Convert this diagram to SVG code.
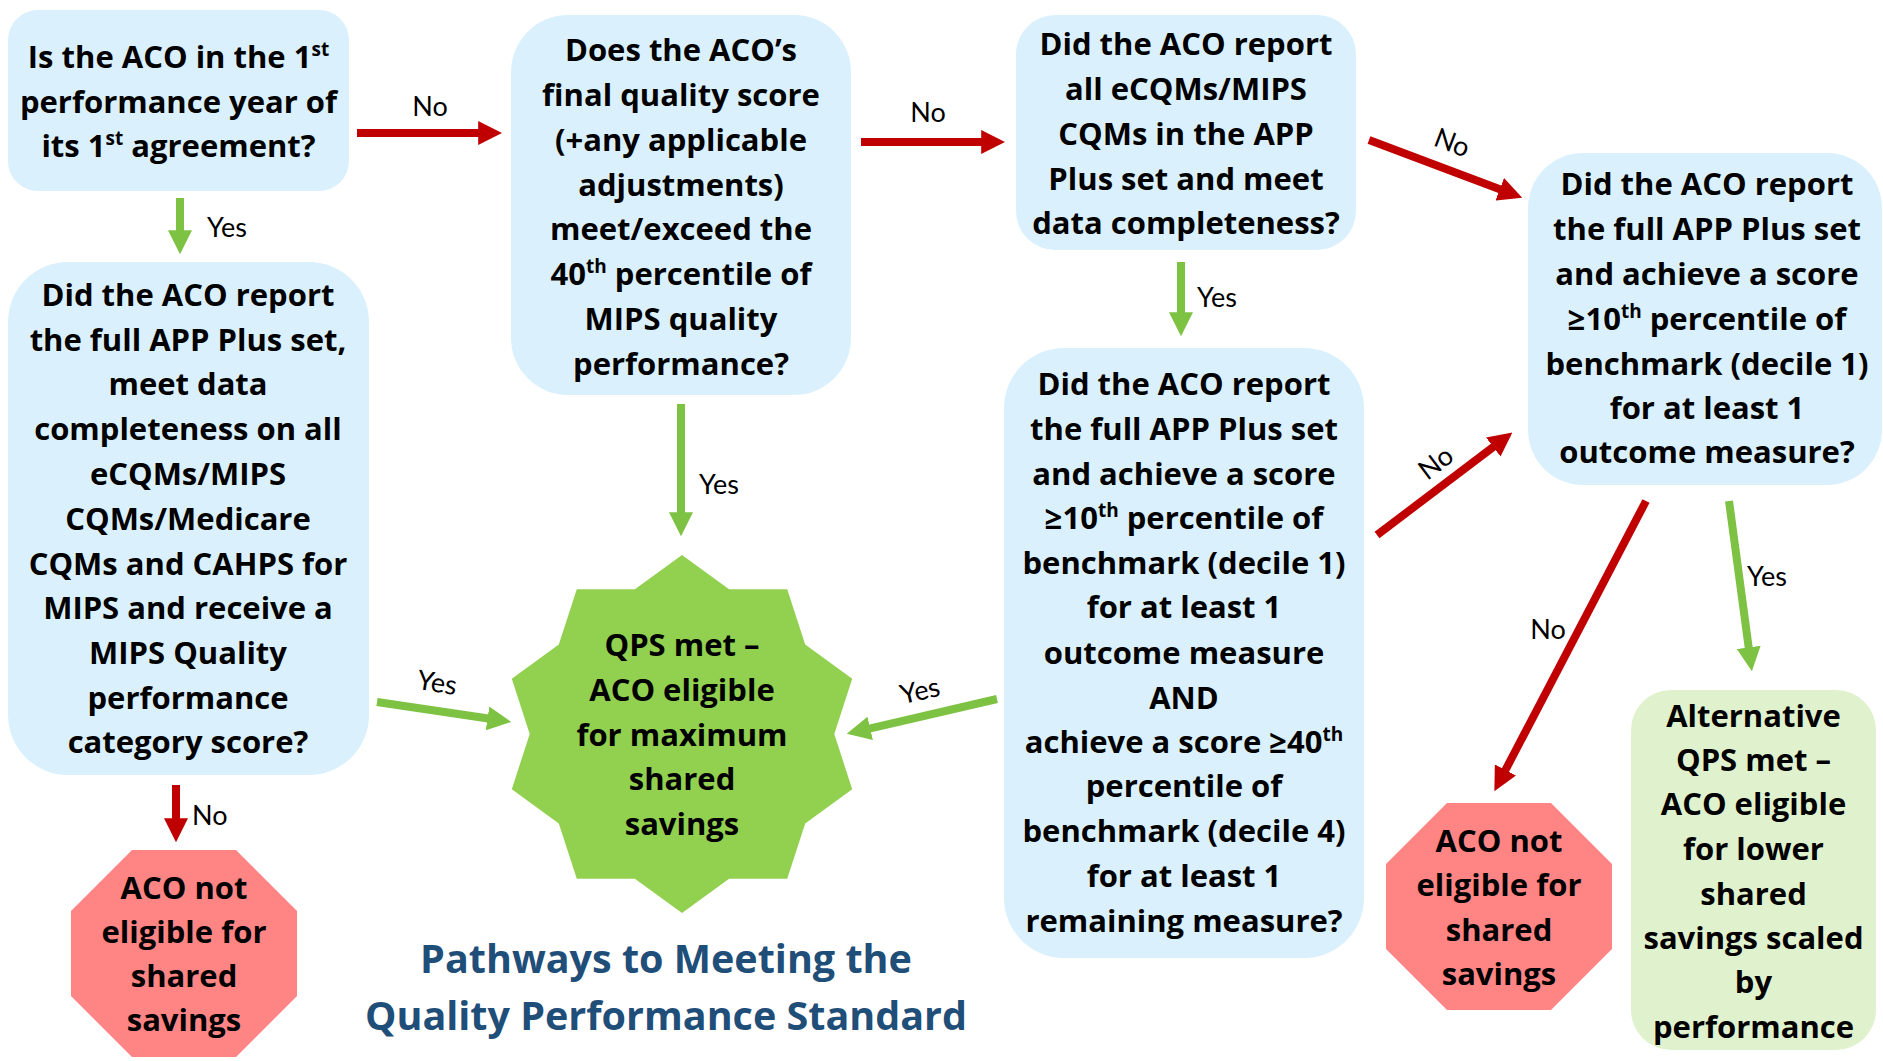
<svg xmlns="http://www.w3.org/2000/svg" width="1883" height="1061" viewBox="0 0 1883 1061">
  <style>
    .q { fill: #DAF1FD; }
    .stop { fill: #FF8585; }
    .alt { fill: #E0F2CD; }
    .star { fill: #92D050; }
    .nt { font-family: "Open Sans", "Liberation Sans", sans-serif; font-weight: 700; font-size: 31px; text-anchor: middle; fill: #000; }
    .sup { font-size: 19px; }
    .lb { font-family: Lato, "Liberation Sans", sans-serif; font-weight: 400; font-size: 27px; fill: #000; }
    .title { font-family: "Open Sans", "Liberation Sans", sans-serif; font-weight: 700; font-size: 39.5px; text-anchor: middle; fill: #1F4E79; }
    .no { stroke: #C00000; stroke-width: 8; fill: none; marker-end: url(#headRed); }
    .yes { stroke: #7DC242; stroke-width: 8; fill: none; marker-end: url(#headGreen); }
  </style>
  <defs>
    <marker id="headRed" viewBox="0 0 3 3" refX="0.1" refY="1.5" markerWidth="3" markerHeight="3" orient="auto" markerUnits="strokeWidth">
      <path d="M0,0 L3,1.5 L0,3 Z" fill="#C00000"/>
    </marker>
    <marker id="headGreen" viewBox="0 0 3 3" refX="0.1" refY="1.5" markerWidth="3" markerHeight="3" orient="auto" markerUnits="strokeWidth">
      <path d="M0,0 L3,1.5 L0,3 Z" fill="#7DC242"/>
    </marker>
  </defs>

  <rect width="1883" height="1061" fill="#FFFFFF"/>

  <!-- connectors -->
  <g id="connectors">
    <line class="no" x1="357" y1="133" x2="479" y2="133"/>
    <line class="yes" x1="180" y1="198" x2="180" y2="231"/>
    <line class="no" x1="861" y1="142" x2="982" y2="142"/>
    <line class="yes" x1="681" y1="404" x2="681" y2="513"/>
    <line class="yes" x1="1181" y1="262" x2="1181" y2="313"/>
    <line class="no" x1="1369" y1="140" x2="1500.5" y2="189.5"/>
    <line class="no" x1="1377" y1="535" x2="1493.9" y2="446.5"/>
    <line class="no" x1="1646" y1="501" x2="1505.1" y2="770.7"/>
    <line class="yes" x1="1729" y1="501" x2="1748.8" y2="648.2"/>
    <line class="yes" x1="377" y1="702" x2="488.3" y2="718.5"/>
    <line class="yes" x1="997" y1="699" x2="869.4" y2="728.6"/>
    <line class="no" x1="176" y1="785" x2="176" y2="819"/>

    <text class="lb" x="430" y="116" text-anchor="middle">No</text>
    <text class="lb" x="207" y="237">Yes</text>
    <text class="lb" x="928" y="122" text-anchor="middle">No</text>
    <text class="lb" x="699" y="494">Yes</text>
    <text class="lb" x="1197" y="307">Yes</text>
    <text class="lb" x="1452" y="152" text-anchor="middle" transform="rotate(21 1452 143)">No</text>
    <text class="lb" x="1436" y="472" text-anchor="middle" transform="rotate(-37 1436 463)">No</text>
    <text class="lb" x="1548" y="639" text-anchor="middle">No</text>
    <text class="lb" x="1747" y="586">Yes</text>
    <text class="lb" x="437" y="692" text-anchor="middle" transform="rotate(9 437 683)">Yes</text>
    <text class="lb" x="920" y="700" text-anchor="middle" transform="rotate(-13 920 691)">Yes</text>
    <text class="lb" x="192" y="825">No</text>
  </g>

  <!-- first agreement year question -->
  <g id="q-first-year">
    <rect class="q" x="8" y="10" width="341" height="181" rx="30"/>
    <text class="nt" x="178.5" y="68">Is the ACO in the 1<tspan class="sup" dy="-12">st</tspan></text>
    <text class="nt" x="178.5" y="113">performance year of</text>
    <text class="nt" x="178.5" y="157">its 1<tspan class="sup" dy="-12">st</tspan><tspan dy="12"> agreement?</tspan></text>
  </g>

  <!-- final quality score question -->
  <g id="q-final-score">
    <rect class="q" x="511" y="15" width="340" height="380" rx="57"/>
    <text class="nt" x="681" y="61">Does the ACO’s</text>
    <text class="nt" x="681" y="106">final quality score</text>
    <text class="nt" x="681" y="151">(+any applicable</text>
    <text class="nt" x="681" y="196">adjustments)</text>
    <text class="nt" x="681" y="240">meet/exceed the</text>
    <text class="nt" x="681" y="285">40<tspan class="sup" dy="-12">th</tspan><tspan dy="12"> percentile of</tspan></text>
    <text class="nt" x="681" y="330">MIPS quality</text>
    <text class="nt" x="681" y="375">performance?</text>
  </g>

  <!-- all eCQMs / MIPS CQMs question -->
  <g id="q-all-ecqms">
    <rect class="q" x="1016" y="15" width="340" height="235" rx="39"/>
    <text class="nt" x="1186" y="55">Did the ACO report</text>
    <text class="nt" x="1186" y="100">all eCQMs/MIPS</text>
    <text class="nt" x="1186" y="145">CQMs in the APP</text>
    <text class="nt" x="1186" y="190">Plus set and meet</text>
    <text class="nt" x="1186" y="234">data completeness?</text>
  </g>

  <!-- outcome measure question -->
  <g id="q-outcome">
    <rect class="q" x="1528" y="153" width="354" height="332" rx="55"/>
    <text class="nt" x="1707" y="195">Did the ACO report</text>
    <text class="nt" x="1707" y="240">the full APP Plus set</text>
    <text class="nt" x="1707" y="285">and achieve a score</text>
    <text class="nt" x="1707" y="330">≥10<tspan class="sup" dy="-12">th</tspan><tspan dy="12"> percentile of</tspan></text>
    <text class="nt" x="1707" y="375">benchmark (decile 1)</text>
    <text class="nt" x="1707" y="419">for at least 1</text>
    <text class="nt" x="1707" y="463">outcome measure?</text>
  </g>

  <!-- first-year pathway question -->
  <g id="q-first-year-set">
    <rect class="q" x="8" y="262" width="361" height="513" rx="60"/>
    <text class="nt" x="188" y="306">Did the ACO report</text>
    <text class="nt" x="188" y="351">the full APP Plus set,</text>
    <text class="nt" x="188" y="395">meet data</text>
    <text class="nt" x="188" y="440">completeness on all</text>
    <text class="nt" x="188" y="485">eCQMs/MIPS</text>
    <text class="nt" x="188" y="530">CQMs/Medicare</text>
    <text class="nt" x="188" y="575">CQMs and CAHPS for</text>
    <text class="nt" x="188" y="619">MIPS and receive a</text>
    <text class="nt" x="188" y="664">MIPS Quality</text>
    <text class="nt" x="188" y="709">performance</text>
    <text class="nt" x="188" y="753">category score?</text>
  </g>

  <!-- outcome plus remaining measure question -->
  <g id="q-outcome-remaining">
    <rect class="q" x="1004" y="348" width="360" height="610" rx="60"/>
    <text class="nt" x="1184" y="395">Did the ACO report</text>
    <text class="nt" x="1184" y="440">the full APP Plus set</text>
    <text class="nt" x="1184" y="485">and achieve a score</text>
    <text class="nt" x="1184" y="529">≥10<tspan class="sup" dy="-12">th</tspan><tspan dy="12"> percentile of</tspan></text>
    <text class="nt" x="1184" y="574">benchmark (decile 1)</text>
    <text class="nt" x="1184" y="618">for at least 1</text>
    <text class="nt" x="1184" y="664">outcome measure</text>
    <text class="nt" x="1184" y="709">AND</text>
    <text class="nt" x="1184" y="753">achieve a score ≥40<tspan class="sup" dy="-12">th</tspan></text>
    <text class="nt" x="1184" y="797">percentile of</text>
    <text class="nt" x="1184" y="842">benchmark (decile 4)</text>
    <text class="nt" x="1184" y="887">for at least 1</text>
    <text class="nt" x="1184" y="932">remaining measure?</text>
  </g>

  <!-- QPS met: maximum shared savings -->
  <g id="qps-met">
    <polygon class="star" points="682,555 729.1,589.2 787.2,589.2 805.2,644.5 852.2,678.7 834.3,734 852.2,789.3 805.2,823.5 787.2,878.8 729.1,878.8 682,913 634.9,878.8 576.8,878.8 558.8,823.5 511.8,789.3 529.7,734 511.8,678.7 558.8,644.5 576.8,589.2 634.9,589.2"/>
    <text class="nt" x="682" y="656">QPS met –</text>
    <text class="nt" x="682" y="701">ACO eligible</text>
    <text class="nt" x="682" y="746">for maximum</text>
    <text class="nt" x="682" y="790">shared</text>
    <text class="nt" x="682" y="835">savings</text>
  </g>

  <!-- not eligible (left) -->
  <g id="not-eligible-left">
    <polygon class="stop" points="132,850 236,850 297,911 297,996 236,1057 132,1057 71,996 71,911"/>
    <text class="nt" x="184" y="899">ACO not</text>
    <text class="nt" x="184" y="943">eligible for</text>
    <text class="nt" x="184" y="987">shared</text>
    <text class="nt" x="184" y="1031">savings</text>
  </g>

  <!-- not eligible (right) -->
  <g id="not-eligible-right">
    <polygon class="stop" points="1447,803 1551,803 1612,864 1612,949 1551,1010 1447,1010 1386,949 1386,864"/>
    <text class="nt" x="1499" y="852">ACO not</text>
    <text class="nt" x="1499" y="896">eligible for</text>
    <text class="nt" x="1499" y="941">shared</text>
    <text class="nt" x="1499" y="985">savings</text>
  </g>

  <!-- alternative QPS met -->
  <g id="alt-qps-met">
    <rect class="alt" x="1631" y="690" width="245" height="360" rx="40"/>
    <text class="nt" x="1753.5" y="727">Alternative</text>
    <text class="nt" x="1753.5" y="771">QPS met –</text>
    <text class="nt" x="1753.5" y="815">ACO eligible</text>
    <text class="nt" x="1753.5" y="860">for lower</text>
    <text class="nt" x="1753.5" y="905">shared</text>
    <text class="nt" x="1753.5" y="949">savings scaled</text>
    <text class="nt" x="1753.5" y="993">by</text>
    <text class="nt" x="1753.5" y="1038">performance</text>
  </g>

  <!-- title -->
  <g id="title">
    <text class="title" x="666" y="973">Pathways to Meeting the</text>
    <text class="title" x="666" y="1030">Quality Performance Standard</text>
  </g>
</svg>
